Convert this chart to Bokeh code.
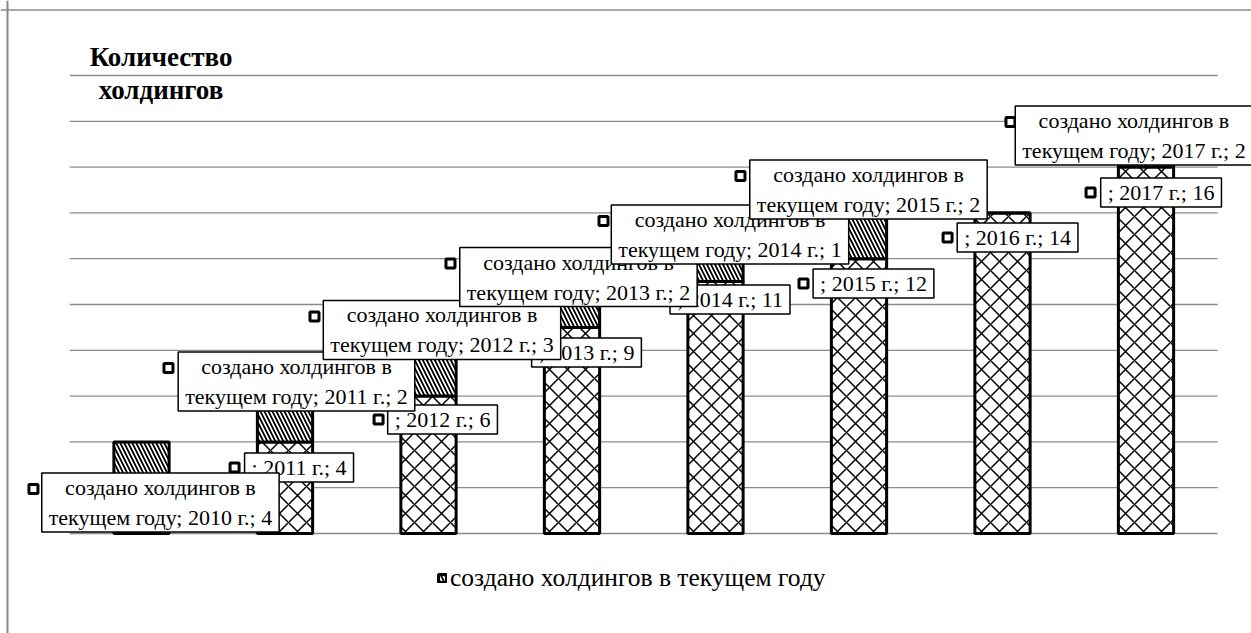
from bokeh.plotting import figure
from bokeh.models import Range1d, Label, Legend, LegendItem, Span
from bokeh.embed import file_html
from bokeh.resources import INLINE

# ---- data ----
years = ["2010 г.", "2011 г.", "2012 г.", "2013 г.", "2014 г.", "2015 г.", "2016 г.", "2017 г."]
existing = [0, 4, 6, 9, 11, 12, 14, 16]          # series without a name (cross hatch)
created = [4, 2, 3, 2, 1, 2, 0, 2]               # "создано холдингов в текущем году"
series_name = "создано холдингов в текущем году"
y_ticks = [0, 2, 4, 6, 8, 10, 12, 14, 16, 18, 20]
title_text = "Количество\nхолдингов"

# ---- layout (data-unit label placement, as Excel arranged them) ----
created_lbl_x = [0.132, 1.080, 2.094, 3.045, 4.101, 5.066, None, 6.916]
created_lbl_y = [1.35, 6.64, 8.89, 11.20, 13.06, 15.02, None, 17.38]
created_lbl_hw = [118, 119, 118.5, 119, 117.5, 119, 0, 114.5]
base_lbl_x = [None, 1.098, 2.098, 3.101, 4.101, 5.101, 6.105, 7.105]
base_lbl_y = [None, 2.88, 4.98, 7.90, 10.22, 10.92, 12.93, 14.89]
base_lbl_hw = [0, 55.5, 55, 56, 61.5, 61, 61, 61.5]

PXX = 143.5
PXY = 22.9
W, H = 1251, 633
XS = -141 / PXX
XE = XS + W / PXX
YE = 533 / PXY
YS = YE - H / PXY

FONT = "Liberation Serif"

p = figure(width=W, height=H, output_backend="svg", toolbar_location=None,
           x_range=Range1d(XS, XE), y_range=Range1d(YS, YE),
           x_axis_location=None, y_axis_location=None, min_border=0)
p.grid.visible = False
p.outline_line_color = None
p.background_fill_color = "white"
p.border_fill_color = "white"

idx = list(range(len(years)))
tops = [e + c for e, c in zip(existing, created)]

# gridlines
p.segment(x0=[-0.5] * len(y_ticks), x1=[len(years) - 0.5] * len(y_ticks),
          y0=y_ticks, y1=y_ticks, line_color="#8c8c8c", line_width=1.3)

bw = 0.385
r_base = p.vbar(x=idx, width=bw, bottom=0, top=existing, fill_color="white",
                line_color="black", line_width=3,
                hatch_pattern="diagonal_cross", hatch_scale=18, hatch_weight=1.5,
                hatch_color="black")
r_cr = p.vbar(x=idx, width=bw, bottom=existing, top=tops, fill_color="white",
              line_color="black", line_width=3,
              hatch_pattern="left_diagonal_line", hatch_scale=8, hatch_weight=1.8,
              hatch_color="black")

# label markers
mx, my = [], []
for i in idx:
    if base_lbl_x[i] is not None:
        mx.append(base_lbl_x[i] - (base_lbl_hw[i] + 9) / PXX)
        my.append(base_lbl_y[i])
    if created_lbl_x[i] is not None:
        mx.append(created_lbl_x[i] - (created_lbl_hw[i] + 9) / PXX)
        my.append(created_lbl_y[i] + 13.5 / PXY)
p.scatter(x=mx, y=my, marker="square", size=9, fill_color="white",
          line_color="black", line_width=3)

def add_label(x, y, text):
    p.add_layout(Label(x=x, y=y, text=text, text_font=FONT, text_font_size="22px",
                       text_align="center", text_baseline="middle", text_color="black",
                       text_line_height=1.2,
                       background_fill_color="white", border_line_color="black",
                       border_line_width=1.5, padding=(7, 2)))

for i in idx:
    if base_lbl_x[i] is not None:
        add_label(base_lbl_x[i], base_lbl_y[i], f"; {years[i]}; {existing[i]}")
for i in idx:
    if created_lbl_x[i] is not None:
        add_label(created_lbl_x[i], created_lbl_y[i],
                  f"создано холдингов в\nтекущем году; {years[i]}; {created[i]}")

# axis title
p.add_layout(Label(x=0.136, y=20.1, text=title_text, text_font=FONT,
                   text_font_size="27px", text_font_style="bold", text_align="center",
                   text_baseline="middle", text_color="black", text_line_height=1.1))

# chart border (left, top)
p.add_layout(Span(location=XS + 7 / PXX, dimension="height", line_color="#8a8a8a", line_width=2))
p.add_layout(Span(location=YE - 9.5 / PXY, dimension="width", line_color="#8a8a8a", line_width=1.5))

legend = Legend(items=[LegendItem(label=series_name, renderers=[r_cr])],
                location=(437, 40), orientation="horizontal",
                border_line_color=None, background_fill_alpha=0,
                label_text_font=FONT, label_text_font_size="25.5px",
                label_text_color="black",
                glyph_width=10, glyph_height=10, label_standoff=3,
                padding=0, margin=0, spacing=0)
p.add_layout(legend)

open("out.html", "w").write(file_html(p, INLINE))
